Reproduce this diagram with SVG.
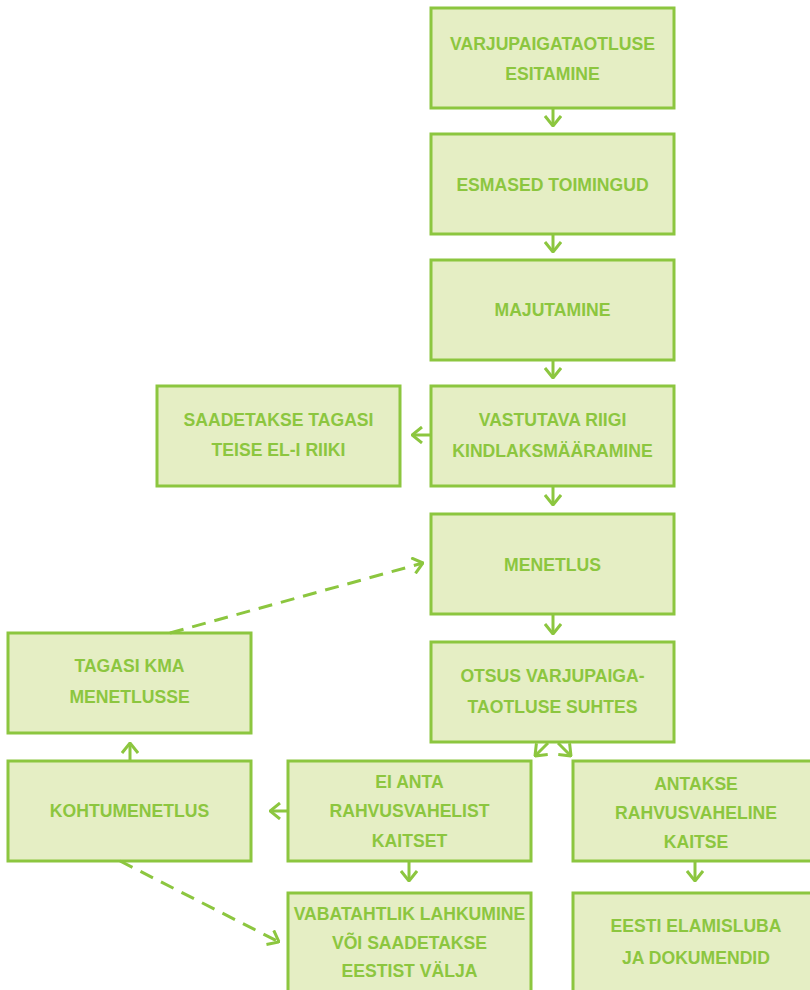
<svg xmlns="http://www.w3.org/2000/svg" width="810" height="990" viewBox="0 0 810 990">
<defs>
<style>
.box{fill:#e5eec4;stroke:#8cc63f;stroke-width:3}
.t{font-family:"Liberation Sans",Arial,sans-serif;font-weight:bold;font-size:17.6px;fill:#8cc63f;text-anchor:middle;dominant-baseline:central}
.c{fill:none;stroke:#8cc63f;stroke-width:3}
.d{fill:none;stroke:#8cc63f;stroke-width:3;stroke-dasharray:14 9}
</style>
<marker id="ah" viewBox="0 0 12 18" refX="11" refY="9" markerWidth="12" markerHeight="18" markerUnits="userSpaceOnUse" orient="auto">
<path d="M1,1 L11,9 L1,17" fill="none" stroke="#8cc63f" stroke-width="3"/>
</marker>
</defs>
<rect width="810" height="990" fill="#ffffff"/>
<g id="n1"><rect class="box" x="431" y="8" width="243" height="100"/><text class="t" x="552.5" y="44">VARJUPAIGATAOTLUSE</text><text class="t" x="552.5" y="74">ESITAMINE</text></g>
<g id="n2"><rect class="box" x="431" y="134" width="243" height="100"/><text class="t" x="552.5" y="185">ESMASED TOIMINGUD</text></g>
<g id="n3"><rect class="box" x="431" y="260" width="243" height="100"/><text class="t" x="552.5" y="310">MAJUTAMINE</text></g>
<g id="n4"><rect class="box" x="431" y="386" width="243" height="100"/><text class="t" x="552.5" y="420">VASTUTAVA RIIGI</text><text class="t" x="552.5" y="451">KINDLAKSMÄÄRAMINE</text></g>
<g id="n5"><rect class="box" x="157" y="386" width="243" height="100"/><text class="t" x="278.5" y="420">SAADETAKSE TAGASI</text><text class="t" x="278.5" y="450">TEISE EL-I RIIKI</text></g>
<g id="n6"><rect class="box" x="431" y="514" width="243" height="100"/><text class="t" x="552.5" y="565">MENETLUS</text></g>
<g id="n7"><rect class="box" x="431" y="642" width="243" height="100"/><text class="t" x="552.5" y="676">OTSUS VARJUPAIGA-</text><text class="t" x="552.5" y="707">TAOTLUSE SUHTES</text></g>
<g id="n8"><rect class="box" x="8" y="633" width="243" height="100"/><text class="t" x="129.5" y="666">TAGASI KMA</text><text class="t" x="129.5" y="697">MENETLUSSE</text></g>
<g id="n9"><rect class="box" x="8" y="761" width="243" height="100"/><text class="t" x="129.5" y="811">KOHTUMENETLUS</text></g>
<g id="n10"><rect class="box" x="288" y="761" width="243" height="100"/><text class="t" x="409.5" y="782">EI ANTA</text><text class="t" x="409.5" y="811">RAHVUSVAHELIST</text><text class="t" x="409.5" y="841">KAITSET</text></g>
<g id="n11"><rect class="box" x="573" y="761" width="243" height="100"/><text class="t" x="696" y="784">ANTAKSE</text><text class="t" x="696" y="813">RAHVUSVAHELINE</text><text class="t" x="696" y="842">KAITSE</text></g>
<g id="n12"><rect class="box" x="288" y="893" width="243" height="110"/><text class="t" x="409.5" y="914">VABATAHTLIK LAHKUMINE</text><text class="t" x="409.5" y="943">VÕI SAADETAKSE</text><text class="t" x="409.5" y="971">EESTIST VÄLJA</text></g>
<g id="n13"><rect class="box" x="573" y="893" width="243" height="110"/><text class="t" x="696" y="926">EESTI ELAMISLUBA</text><text class="t" x="696" y="958">JA DOKUMENDID</text></g>
<g id="connectors">
<path class="c" d="M553,108 V126" marker-end="url(#ah)"/>
<path class="c" d="M553,234 V252" marker-end="url(#ah)"/>
<path class="c" d="M553,360 V378" marker-end="url(#ah)"/>
<path class="c" d="M553,486 V505" marker-end="url(#ah)"/>
<path class="c" d="M553,614 V634" marker-end="url(#ah)"/>
<path class="c" d="M431,435 H412" marker-end="url(#ah)"/>
<path class="c" d="M548,743 L535,756" marker-end="url(#ah)"/>
<path class="c" d="M558,743 L571,756" marker-end="url(#ah)"/>
<path class="c" d="M288,811 H270" marker-end="url(#ah)"/>
<path class="c" d="M130,761 V743" marker-end="url(#ah)"/>
<path class="c" d="M409,861 V881" marker-end="url(#ah)"/>
<path class="c" d="M695,861 V881" marker-end="url(#ah)"/>
<path class="d" d="M170,633 L423,563" marker-end="url(#ah)"/>
<path class="d" d="M120,861 L279,942" marker-end="url(#ah)"/>
</g>
</svg>
